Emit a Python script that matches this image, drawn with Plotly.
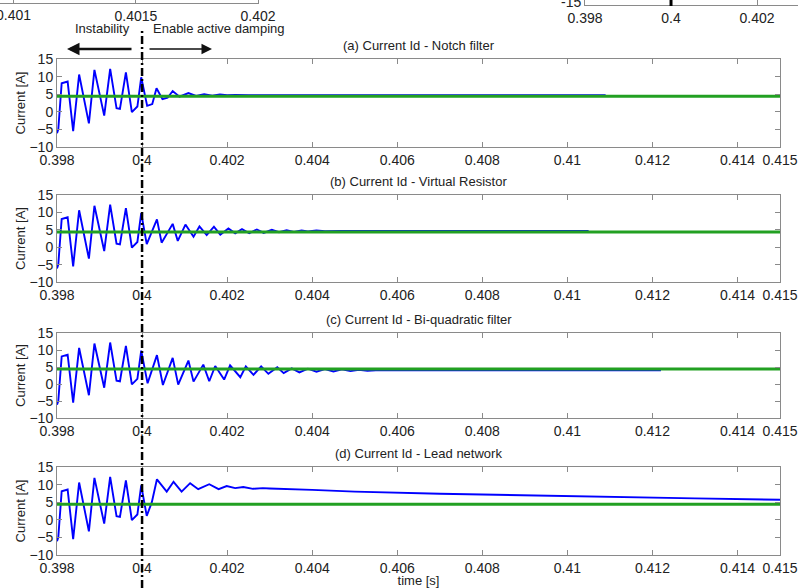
import plotly.graph_objects as go

# ---------------- data ----------------
t_pre = [0.39800, 0.39803, 0.39811, 0.39825, 0.39838, 0.39852, 0.39875, 0.39888, 0.39911,
         0.39925, 0.39940, 0.39948, 0.39962, 0.39976, 0.39989, 0.39998]
i_pre = [-6.1, -5.0, 8.1, 8.6, -5.5, 10.6, -3.3, 11.9, -1.1,
         12.2, 1.0, 0.8, 11.2, -0.1, 1.5, 9.8]

t_notch = [0.40012, 0.40024, 0.40034, 0.40048, 0.40060, 0.40072, 0.40088, 0.40109, 0.40127,
           0.40146, 0.40165, 0.40183, 0.40200, 0.40220, 0.40250, 0.40300, 0.41090]
i_notch = [1.7, 2.2, 6.7, 3.6, 4.0, 5.9, 4.3, 5.3, 4.5,
           5.0, 4.6, 4.9, 4.7, 4.8, 4.7, 4.7, 4.7]

t_vr = [0.40011, 0.40035, 0.40046, 0.40072, 0.40084, 0.40102, 0.40121, 0.40135, 0.40152,
        0.40169, 0.40184, 0.40203, 0.40219, 0.40235, 0.40252, 0.40270, 0.40286, 0.40305,
        0.40322, 0.40340, 0.40357, 0.40375, 0.40390, 0.40410, 0.40430, 0.40470, 0.41050]
i_vr = [0.9, 8.0, 1.3, 6.7, 1.8, 6.5, 3.0, 6.0, 3.5,
        5.9, 3.6, 5.4, 4.0, 5.2, 4.0, 5.1, 4.1, 5.0,
        4.3, 4.9, 4.4, 4.8, 4.5, 4.8, 4.6, 4.7, 4.7]

t_bq = [0.40013, 0.40035, 0.40049, 0.40072, 0.40085, 0.40109, 0.40121, 0.40144, 0.40158,
        0.40172, 0.40193, 0.40207, 0.40231, 0.40244, 0.40262, 0.40280, 0.40297, 0.40318,
        0.40333, 0.40352, 0.40370, 0.40390, 0.40410, 0.40430, 0.40450, 0.40470, 0.40490,
        0.40510, 0.40530, 0.40560, 0.40600, 0.41220]
i_bq = [0.2, 8.5, -0.3, 7.7, -0.2, 6.9, 0.7, 5.7, 0.8,
        5.3, 1.3, 5.5, 2.0, 5.2, 2.7, 5.2, 3.0, 4.9,
        3.2, 4.6, 3.4, 4.5, 3.6, 4.4, 3.7, 4.3, 3.8,
        4.2, 3.9, 4.1, 4.0, 4.0]

t_lead = [0.40011, 0.40023, 0.40035, 0.40058, 0.40074, 0.40093, 0.40113, 0.40132, 0.40158,
          0.40180, 0.40199, 0.40219, 0.40238, 0.40261, 0.40284, 0.40300, 0.40400, 0.40500,
          0.40700, 0.40900, 0.41100, 0.41300, 0.41500]
i_lead = [1.1, 5.0, 11.5, 8.0, 10.8, 8.0, 10.4, 8.7, 10.1,
          8.7, 9.6, 9.0, 9.3, 8.8, 9.0, 8.9, 8.5, 8.0,
          7.4, 6.9, 6.5, 6.1, 5.7]

t_ref = [0.398, 0.415]
i_ref = [4.4, 4.4]

titles = ["(a) Current Id - Notch filter", "(b) Current Id - Virtual Resistor",
          "(c) Current Id - Bi-quadratic filter", "(d) Current Id - Lead network"]
x_tickvals = [0.398, 0.400, 0.402, 0.404, 0.406, 0.408, 0.410, 0.412, 0.414, 0.415]
x_ticktext = ["0.398", "0.4", "0.402", "0.404", "0.406", "0.408", "0.41", "0.412", "0.414", "0.415"]
y_tickvals = [-10, -5, 0, 5, 10, 15]

# remnants of neighbouring figures at the top
tl_vals = [0.401, 0.4015, 0.402]
tl_text = ["0.401", "0.4015", "0.402"]
tr_vals = [0.398, 0.400, 0.402]
tr_text = ["0.398", "0.4", "0.402"]

# ---------------- layout geometry ----------------
W, H = 798, 588
def fx(px): return px / W
def fy(py): return 1 - py / H

xdom = [fx(57), fx(780)]
boxes = [(59, 147), (195, 282), (333, 418), (467, 555)]

FONT = "Liberation Sans, Arial, sans-serif"
AX = "#8a8a8a"
TXT = "#222222"

fig = go.Figure()
posts = [(t_notch, i_notch), (t_vr, i_vr), (t_bq, i_bq), (t_lead, i_lead)]
for k, (tp, ip) in enumerate(posts):
    sx = "" if k == 0 else str(k + 1)
    fig.add_trace(go.Scatter(x=t_pre + tp, y=i_pre + ip, mode="lines",
                             line=dict(color="#0000ff", width=1.9),
                             xaxis="x" + sx, yaxis="y" + sx, showlegend=False))
    fig.add_trace(go.Scatter(x=t_ref, y=i_ref, mode="lines",
                             line=dict(color="#22a022", width=3),
                             xaxis="x" + sx, yaxis="y" + sx, showlegend=False))

layout = dict(width=W, height=H, margin=dict(l=0, r=0, t=0, b=0, autoexpand=False),
              paper_bgcolor="white", plot_bgcolor="white",
              font=dict(family=FONT, color=TXT, size=13), showlegend=False)

annotations = []
for k, (top, bot) in enumerate(boxes):
    sx = "" if k == 0 else str(k + 1)
    layout["xaxis" + sx] = dict(domain=xdom, range=[0.398, 0.415], anchor="y" + sx,
                                tickvals=x_tickvals, ticktext=x_ticktext,
                                ticks="inside", ticklen=5, tickcolor=AX,
                                showline=True, linecolor=AX, linewidth=1, mirror="ticks",
                                showgrid=False, zeroline=False, automargin=False,
                                tickfont=dict(size=14, color=TXT))
    layout["yaxis" + sx] = dict(domain=[fy(bot), fy(top)], range=[-10, 15], anchor="x" + sx,
                                tickvals=y_tickvals,
                                ticks="inside", ticklen=5, tickcolor=AX,
                                showline=True, linecolor=AX, linewidth=1, mirror="ticks",
                                showgrid=False, zeroline=False, automargin=False,
                                tickfont=dict(size=14, color=TXT),
                                title=dict(text="Current [A]", font=dict(size=13, color=TXT),
                                           standoff=0))
    annotations.append(dict(text=titles[k], xref="paper", yref="paper",
                            x=(xdom[0] + xdom[1]) / 2, y=fy(top) + 4 / H,
                            xanchor="center", yanchor="bottom", showarrow=False,
                            font=dict(size=13, color=TXT)))

layout["xaxis4"]["title"] = dict(text="time [s]", font=dict(size=13, color=TXT), standoff=0)

# top-left remnant axis
layout["xaxis5"] = dict(domain=[0, fx(258)], range=[0.400943, 0.402], anchor="y5",
                        tickvals=tl_vals, ticktext=tl_text, ticks="inside", ticklen=6,
                        tickcolor=AX, showline=True, linecolor=AX, showgrid=False,
                        zeroline=False, automargin=False, ticklabelstandoff=0,
                        tickfont=dict(size=14, color=TXT))
layout["yaxis5"] = dict(domain=[fy(3), 1], range=[0, 1], anchor="x5", side="right",
                        showline=True, linecolor=AX, showticklabels=False, ticks="",
                        showgrid=False, zeroline=False, automargin=False)
# top-right remnant axis
layout["xaxis6"] = dict(domain=[fx(585), 1], range=[0.398, 0.402953], anchor="y6",
                        tickvals=tr_vals, ticktext=tr_text, ticks="inside", ticklen=6,
                        tickcolor=AX, showline=True, linecolor=AX, showgrid=False,
                        zeroline=False, automargin=False, ticklabelstandoff=0,
                        tickfont=dict(size=14, color=TXT))
layout["yaxis6"] = dict(domain=[fy(5), 1], range=[-15, -14], anchor="x6",
                        tickvals=[-15], ticks="", showline=True, linecolor=AX,
                        showgrid=False, zeroline=False, automargin=False,
                        tickfont=dict(size=14, color=TXT))
fig.add_trace(go.Scatter(x=[None], y=[None], xaxis="x5", yaxis="y5", showlegend=False))
fig.add_trace(go.Scatter(x=[None], y=[None], xaxis="x6", yaxis="y6", showlegend=False))

# labels and arrows at the top
annotations += [
    dict(text=tl_text[0], xref="x5", yref="paper", x=tl_vals[0], y=fy(5),
         xanchor="center", yanchor="top", showarrow=False, font=dict(size=14, color=TXT)),
    dict(text="-15", xref="paper", yref="paper", x=fx(583), y=fy(2),
         xanchor="right", yanchor="middle", showarrow=False, font=dict(size=14, color=TXT)),
    dict(text="Instability", xref="paper", yref="paper", x=fx(102), y=fy(28),
         xanchor="center", yanchor="middle", showarrow=False, font=dict(size=13, color=TXT)),
    dict(text="Enable active damping", xref="paper", yref="paper", x=fx(219), y=fy(28),
         xanchor="center", yanchor="middle", showarrow=False, font=dict(size=13, color=TXT)),
    dict(text="", xref="paper", yref="paper", x=fx(67), y=fy(49), ax=66, ay=0,
         showarrow=True, arrowhead=2, arrowsize=1, arrowwidth=2.5, arrowcolor="#111"),
    dict(text="", xref="paper", yref="paper", x=fx(212), y=fy(49), ax=-64, ay=0,
         showarrow=True, arrowhead=2, arrowsize=1.4, arrowwidth=1.5, arrowcolor="#111"),
]
layout["annotations"] = annotations
layout["shapes"] = [
    dict(type="line", xref="x", yref="paper", x0=0.400, x1=0.400, y0=0, y1=fy(31),
         line=dict(color="black", width=2.5, dash="8px,3px,2px,3px")),
    dict(type="line", xref="x6", yref="paper", x0=0.400, x1=0.400, y0=fy(6), y1=1,
         line=dict(color="black", width=3)),
]
fig.update_layout(**layout)
fig.write_html("out.html")
